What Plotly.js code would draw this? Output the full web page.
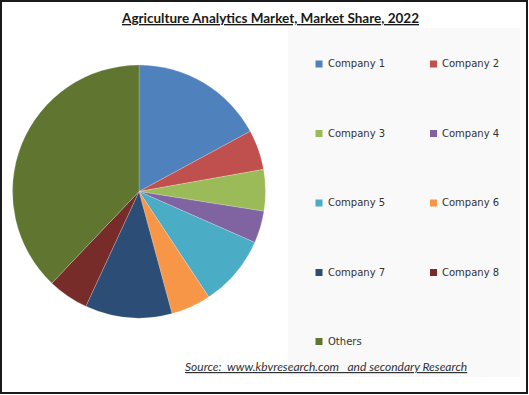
<!DOCTYPE html>
<html>
<head>
<meta charset="utf-8">
<script src="https://cdn.plot.ly/plotly-3.0.1.min.js"></script>
<style>html,body{margin:0;padding:0;background:#fff;}#chart{width:529px;height:395px;}</style>
</head>
<body>
<div id="chart"></div>
<script>
const labels = ["Company 1","Company 2","Company 3","Company 4","Company 5","Company 6","Company 7","Company 8","Others"];
const shares = [17.1, 5.1, 5.3, 4.1, 9.1, 5.1, 11.1, 5.2, 37.9];
const colors = ["#4f81bd","#c0504d","#9bbb59","#8064a2","#4bacc6","#f79646","#2c4d75","#772c2a","#5f7530"];
const titleText = "Agriculture Analytics Market, Market Share, 2022";
const sourceText = "Source:  www.kbvresearch.com   and secondary Research";

const W = 529, H = 395;
const px = x => x / W;
const py = y => 1 - y / H;

const cx = 139, cy = 191.5, r = 126.5;

const trace = {
  type: "pie",
  labels: labels,
  values: shares,
  sort: false,
  direction: "clockwise",
  rotation: 0,
  textinfo: "none",
  hoverinfo: "label+percent",
  showlegend: false,
  marker: {colors: colors, line: {color: "rgba(255,255,255,0.4)", width: 0.5}},
  domain: {x: [px(cx - r), px(cx + r)], y: [py(cy + r), py(cy - r)]}
};

const shapes = [
  {type: "rect", xref: "paper", yref: "paper", x0: px(288), x1: px(520), y0: py(377), y1: py(28),
   fillcolor: "#f9f9f9", line: {width: 0}, layer: "below"},
  {type: "rect", xref: "paper", yref: "paper", x0: px(1), x1: px(527), y0: py(393), y1: py(1),
   fillcolor: "rgba(0,0,0,0)", line: {color: "#1a1a1a", width: 2}}
];

const annotations = [
  {text: "<b><u>" + titleText + "</u></b>", xref: "paper", yref: "paper", x: px(270), y: py(18),
   xanchor: "center", yanchor: "middle", showarrow: false,
   font: {family: "Lato, 'Liberation Sans', sans-serif", size: 13.5, color: "#1a1a1a"}},
  {text: "<i><u>" + sourceText + "</u></i>", xref: "paper", yref: "paper", x: px(183), y: py(366),
   xanchor: "left", yanchor: "middle", showarrow: false,
   font: {family: "Lato, 'Liberation Sans', sans-serif", size: 12, color: "#333"}}
];

const rowY = [64, 133.5, 203, 272.5, 341.5];
const colX = [315.5, 430];
labels.forEach((lab, i) => {
  const row = Math.floor(i / 2), col = i % 2;
  const x = colX[col], y = rowY[row];
  shapes.push({type: "rect", xref: "paper", yref: "paper",
    x0: px(x), x1: px(x + 7), y0: py(y + 3.5), y1: py(y - 3.5),
    fillcolor: colors[i], line: {width: 0}});
  annotations.push({text: lab, xref: "paper", yref: "paper", x: px(x + 10), y: py(y),
    xanchor: "left", yanchor: "middle", showarrow: false,
    font: {family: "'DejaVu Sans', Verdana, sans-serif", size: 10, color: "#333"}});
});

const layout = {
  width: W, height: H,
  margin: {l: 0, r: 0, t: 0, b: 0},
  paper_bgcolor: "#ffffff",
  showlegend: false,
  shapes: shapes,
  annotations: annotations
};

Plotly.newPlot("chart", [trace], layout, {displayModeBar: false, staticPlot: true});
</script>
</body>
</html>
